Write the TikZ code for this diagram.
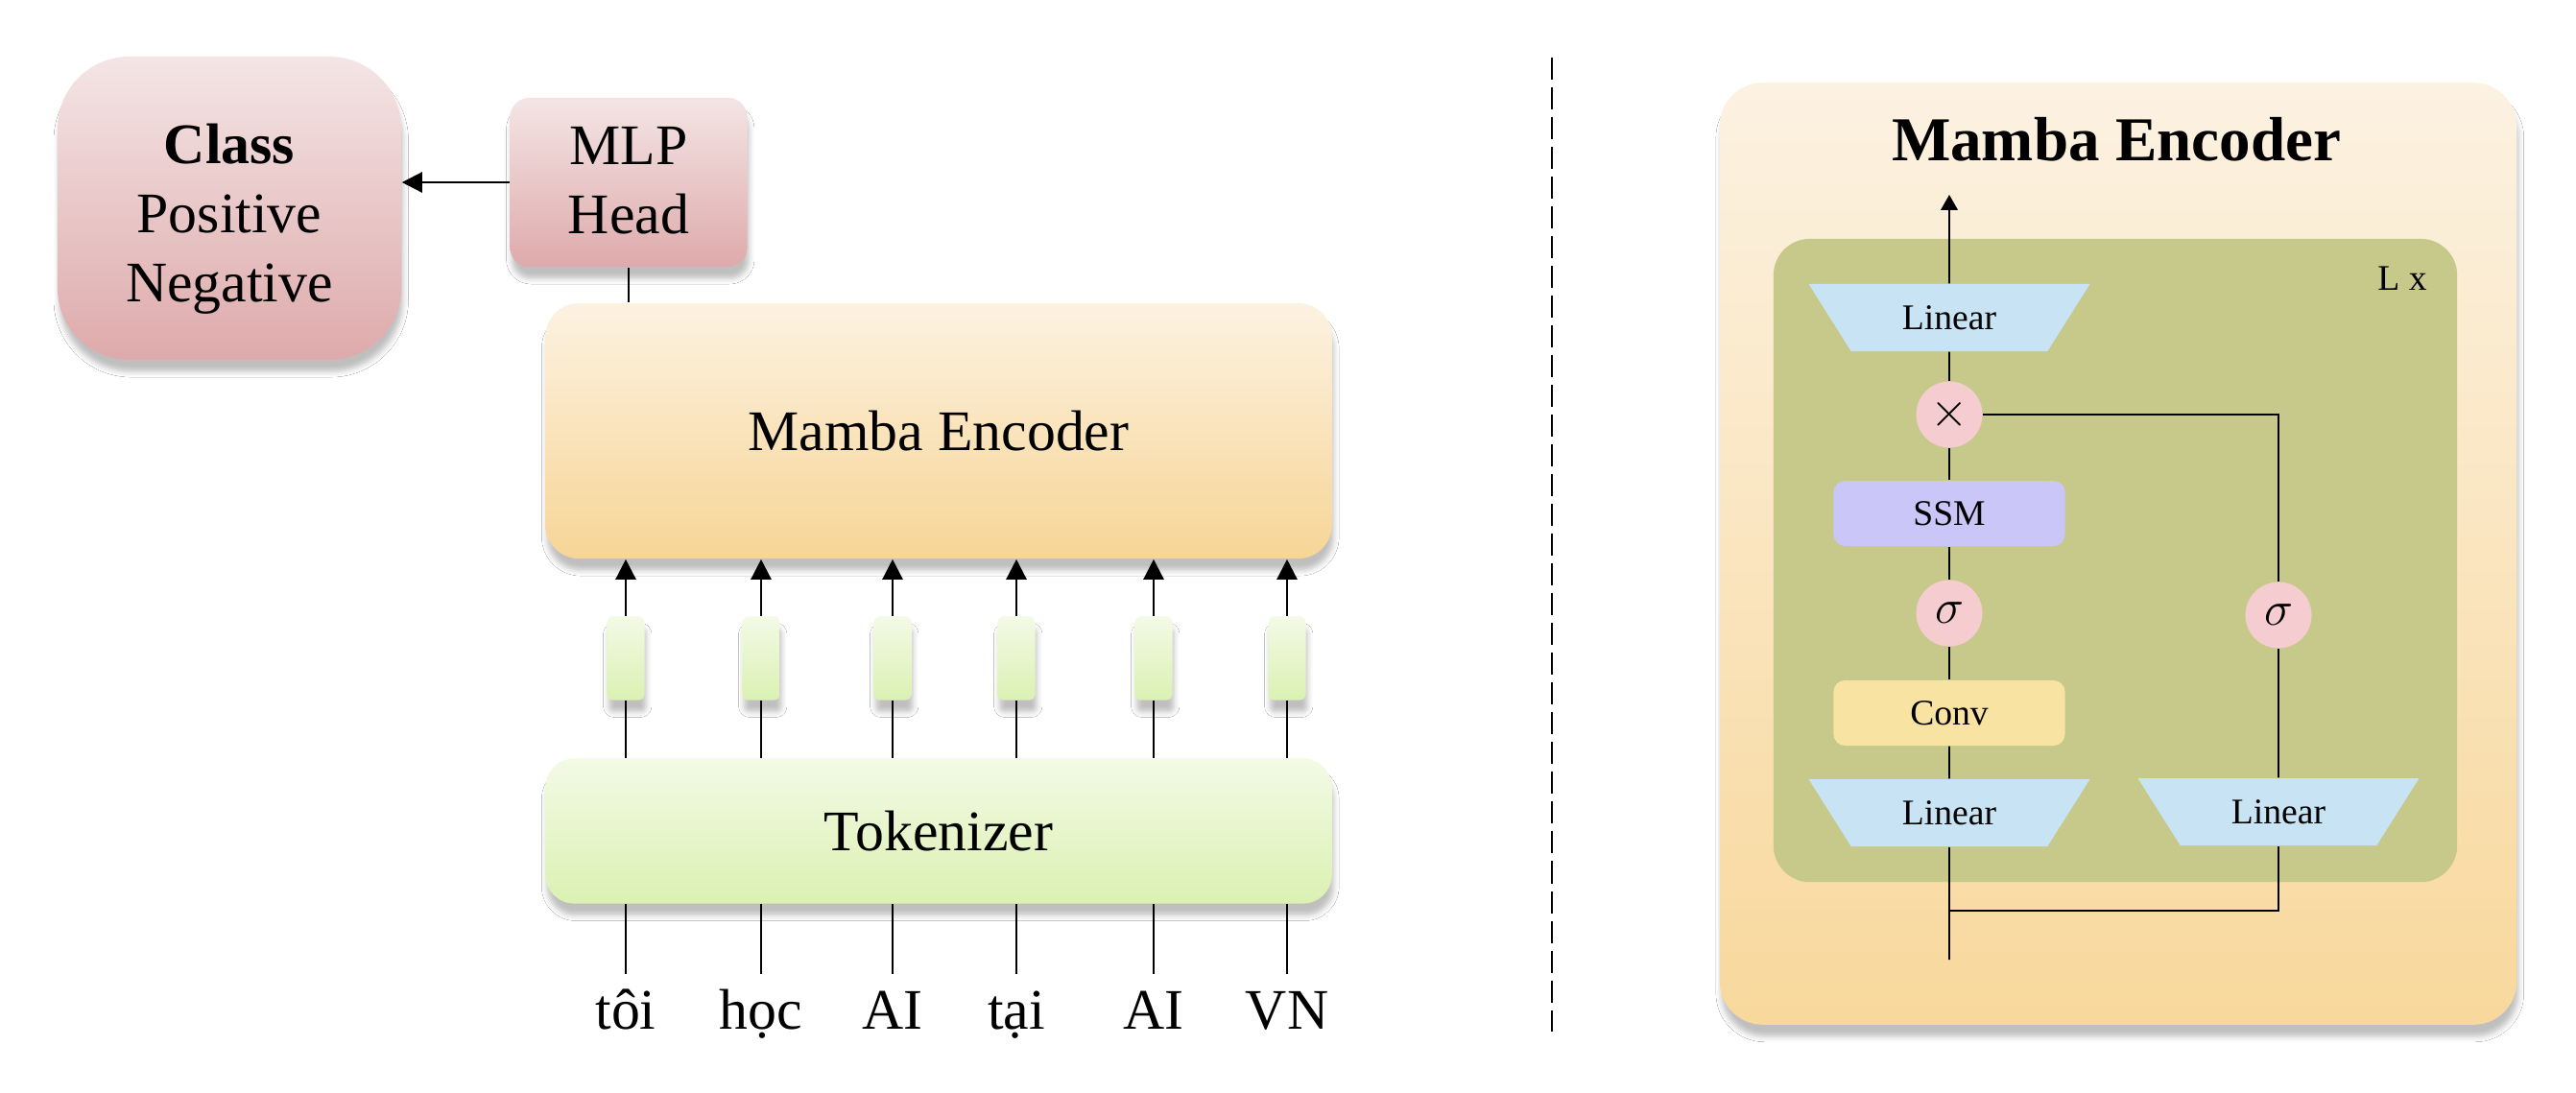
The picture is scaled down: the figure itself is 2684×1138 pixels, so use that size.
\documentclass[tikz,border=0pt]{standalone}
\usepackage{fontspec}
\setmainfont{Liberation Serif}
\usetikzlibrary{arrows.meta, shapes.geometric, shadows.blur}
\definecolor{pinktop}{HTML}{F4E5E5}
\definecolor{pinkbot}{HTML}{DEAAAB}
\definecolor{enctop}{HTML}{FCF2E2}
\definecolor{encbot}{HTML}{F7D596}
\definecolor{toktop}{HTML}{F3FAE6}
\definecolor{tokbot}{HTML}{DBF1B2}
\definecolor{paneltop}{HTML}{FCF2E2}
\definecolor{panelbot}{HTML}{F8D89C}
\definecolor{layergreen}{HTML}{C6C98A}
\definecolor{linblue}{HTML}{C8E4F4}
\definecolor{ssmviolet}{HTML}{CBC6F8}
\definecolor{convyellow}{HTML}{F8E3A2}
\definecolor{opink}{HTML}{F5CDD0}
\tikzset{>={Triangle[width = 6pt, length = 6pt]}}
\tikzset{
	soft/.style = {blur shadow = {shadow xshift = 0.5pt, shadow yshift = -3.5pt, shadow blur radius = 1.6pt, shadow opacity = 25}},
	pinkbox/.style = {rectangle, soft, top color = pinktop, bottom color = pinkbot, font = \fontsize{17}{20.4}\selectfont},
	encbox/.style = {rectangle, soft, top color = enctop, bottom color = encbot, font = \fontsize{17}{20.4}\selectfont},
	tokbox/.style = {rectangle, soft, top color = toktop, bottom color = tokbot, font = \fontsize{17}{20.4}\selectfont},
	emb/.style = {rectangle, soft, top color = toktop, bottom color = tokbot, minimum width = 0.39cm, minimum height = 0.87cm, rounded corners = 0.06cm, inner sep = 0pt},
	word/.style = {anchor = north, inner xsep = 1pt, inner ysep = 0pt, text height = 16.2pt, font = \fontsize{17}{20.4}\selectfont},
	linear/.style = {trapezium, shape border rotate = 180, trapezium stretches = true, trapezium left angle = 50, trapezium right angle = 50, minimum width = 2.93cm, minimum height = 0.70cm, inner sep = 0pt, fill = linblue, font = \fontsize{10.7}{12}\selectfont},
	opbox/.style = {rectangle, rounded corners = 0.12cm, minimum width = 2.41cm, minimum height = 0.68cm, inner sep = 0pt, font = \fontsize{10.7}{12}\selectfont},
	op/.style = {circle, fill = opink, minimum size = 0.69cm, inner sep = 0pt, font = \fontsize{14}{16}\selectfont}
}

\begin{document}
\begin{tikzpicture}[x = 0.01cm, y = -0.01cm]
	\path[use as bounding box, fill = white] (0,0) rectangle (2684,1138);
	\node[pinkbox, minimum width = 3.58cm, minimum height = 3.16cm, rounded corners = 0.75cm] (class) at (239,217) {\raisebox{-0.11cm}[\height][\depth]{\begin{tabular}{@{}c@{}}\textbf{Class}\\Positive\\Negative\end{tabular}}};
	\node[pinkbox, minimum width = 2.47cm, minimum height = 1.76cm, rounded corners = 0.2cm] (mlp) at (655,190) {\raisebox{-0.03cm}[\height][\depth]{\begin{tabular}{@{}c@{}}MLP\\Head\end{tabular}}};
	\node[encbox, minimum width = 8.19cm, minimum height = 2.66cm, rounded corners = 0.35cm] (enc) at (978,449) {Mamba Encoder};
	\node[tokbox, minimum width = 8.19cm, minimum height = 1.51cm, rounded corners = 0.3cm] (tok) at (978,866) {Tokenizer};
	\draw[->, line width = 0.7pt] (mlp.west) -- (class.east |- mlp.west);
	\draw[line width = 0.7pt] (mlp) -- (enc.north -| mlp);
	\foreach \x/\w [count = \i] in {652/tôi, 793/học, 930/AI, 1059/tại, 1202/AI, 1341/VN}{
		\node[emb] (t\i) at (\x,686) {};
		\node[word] (w\i) at (\x,1015) {\w};
		\draw[line width = 0.7pt] (tok.north -| t\i) -- (t\i);
		\draw[->, line width = 0.7pt] (t\i) -- (enc.south -| t\i);
		\draw[line width = 0.7pt] (tok.south -| w\i) -- (w\i.north);
	}
	\draw[line width = 0.6pt, dash pattern = on 0.23cm off 0.08cm] (1617,60) -- (1617,1075);
	\node[rectangle, soft, top color = paneltop, bottom color = panelbot, minimum width = 8.30cm, minimum height = 9.81cm, rounded corners = 0.45cm] (panel) at (2207,577) {};
	\node[font = \fontsize{18.5}{22}\selectfont\bfseries] (title) at (2205,145) {Mamba Encoder};
	\node[rectangle, fill = layergreen, minimum width = 7.12cm, minimum height = 6.70cm, rounded corners = 0.38cm] (layer) at (2204,584) {};
	\node[font = \fontsize{10.7}{12}\selectfont] (times) at (2503,290) {L x};
	\node[linear] (lin1) at (2031,331) {Linear};
	\node[op] (mul) at (2031,432) {$\times$};
	\node[opbox, fill = ssmviolet] (ssm) at (2031,535) {SSM};
	\node[op] (sig1) at (2031,639) {$\sigma$};
	\node[opbox, fill = convyellow] (conv) at (2031,743) {Conv};
	\node[linear] (lin2) at (2031,847) {Linear};
	\node[linear] (lin3) at (2374,846) {Linear};
	\node[op] (sig2) at (2374,641) {$\sigma$};
	\coordinate (in) at (2031,1000);
	\coordinate (split) at (2031,949);
	\coordinate (out) at (2031,203);
	\begin{scope}[line width = 0.45pt]
		\draw (in) -- (lin2);
		\draw (lin2) -- (conv);
		\draw (conv) -- (sig1);
		\draw (sig1) -- (ssm);
		\draw (ssm) -- (mul);
		\draw (mul) -- (lin1);
		\draw[-{Triangle[width = 5pt, length = 4.5pt]}] (lin1) -- (out);
		\draw (split) -| (lin3);
		\draw (lin3) -- (sig2);
		\draw (sig2) |- (mul);
	\end{scope}
\end{tikzpicture}
\end{document}
